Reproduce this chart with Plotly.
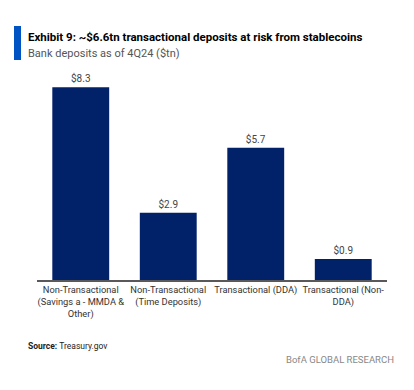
import plotly.graph_objects as go

categories = ["Non-Transactional<br>(Savings a - MMDA &<br>Other)",
              "Non-Transactional<br>(Time Deposits)",
              "Transactional (DDA)",
              "Transactional (Non-<br>DDA)"]
values = [8.3, 2.9, 5.7, 0.9]
value_labels = ["$8.3", "$2.9", "$5.7", "$0.9"]

OFF = 8  # default page body margin
W, H = 414 - OFF, 390 - OFF
ml, mr, mt, mb = 37 - OFF, 27, 71 - OFF, 110
pw, ph = W - ml - mr, H - mt - mb
font = "Roboto, Liberation Sans, sans-serif"

fig = go.Figure(go.Bar(
    x=categories, y=values, text=value_labels, textposition="outside",
    textfont=dict(size=10, color="#444444", family=font),
    marker=dict(color="#012169", line=dict(width=0)),
    cliponaxis=False,
))

fig.update_layout(
    width=W, height=H,
    margin=dict(l=ml, r=mr, t=mt, b=mb, autoexpand=False),
    paper_bgcolor="white", plot_bgcolor="white",
    bargap=0.35, showlegend=False,
    font=dict(family=font, color="#333333"),
    xaxis=dict(showgrid=False, showline=True, linecolor="#595959", linewidth=2,
               ticks="", tickangle=0, automargin=False,
               tickfont=dict(size=9.3, color="#333333")),
    yaxis=dict(range=[0, 9], visible=False, showgrid=False, zeroline=False,
               automargin=False),
)

def px_x(p):
    return (p - OFF - ml) / pw
def px_y(p):
    return (H - mb - (p - OFF)) / ph

fig.add_shape(type="rect", xref="paper", yref="paper",
              x0=px_x(14), x1=px_x(21), y0=px_y(60), y1=px_y(26),
              fillcolor="#0053C2", line=dict(width=0))

fig.add_annotation(xref="paper", yref="paper", x=px_x(26), y=px_y(37),
                   xanchor="left", yanchor="middle", showarrow=False,
                   text="<b>Exhibit 9: ~$6.6tn transactional deposits at risk from stablecoins</b>",
                   font=dict(size=11.5, color="#000000", family=font))
fig.add_annotation(xref="paper", yref="paper", x=px_x(26), y=px_y(53),
                   xanchor="left", yanchor="middle", showarrow=False,
                   text="Bank deposits as of 4Q24 ($tn)",
                   font=dict(size=11, color="#555555", family=font))
fig.add_annotation(xref="paper", yref="paper", x=px_x(26), y=px_y(346),
                   xanchor="left", yanchor="middle", showarrow=False,
                   text="<b>Source:</b> Treasury.gov",
                   font=dict(size=8.5, color="#222222", family=font))
fig.add_annotation(xref="paper", yref="paper", x=px_x(396), y=px_y(359),
                   xanchor="right", yanchor="middle", showarrow=False,
                   text="BofA GLOBAL RESEARCH",
                   font=dict(size=9.5, color="#888888", family=font))

fig.write_html("out.html")
